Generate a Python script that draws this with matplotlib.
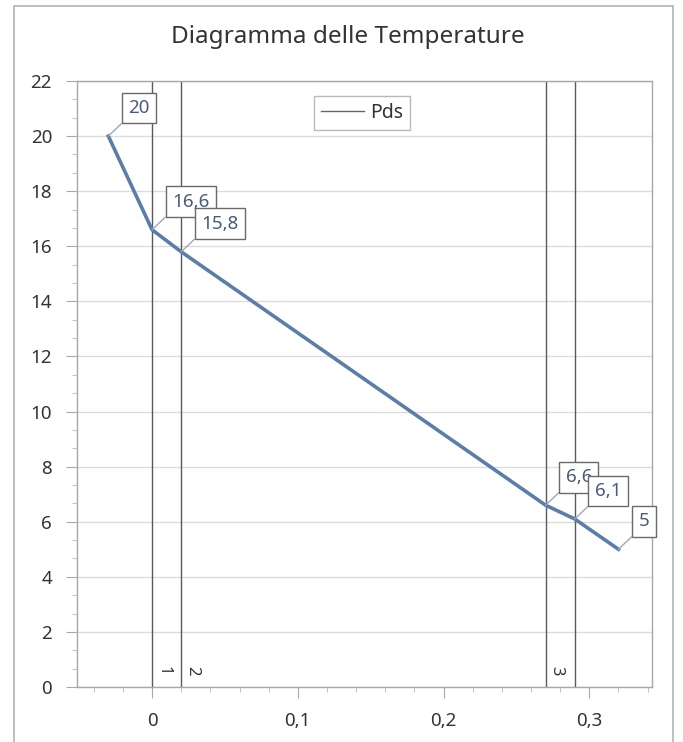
import matplotlib
matplotlib.use("Agg")
import matplotlib.pyplot as plt
from matplotlib.ticker import MultipleLocator, FuncFormatter
from matplotlib.patches import Rectangle
from matplotlib.transforms import offset_copy

plt.rcParams['font.family'] = ['Noto Sans', 'DejaVu Sans']

# Data
title = "Diagramma delle Temperature"
series_name = "Pds"
x_vals = [-0.03, 0.0, 0.02, 0.27, 0.29, 0.32]
y_vals = [20, 16.6, 15.8, 6.6, 6.1, 5]
point_labels = ["20", "16,6", "15,8", "6,6", "6,1", "5"]
layer_x = [0.0, 0.02, 0.27, 0.29]
layer_labels = ["1", "2", "3"]
layer_label_x = [0.0, 0.02, 0.27]

W, H = 683, 742
fig = plt.figure(figsize=(W / 100, H / 100), dpi=100)
ax = fig.add_axes([77 / W, 1 - 687 / H, (652 - 77) / W, (687 - 81) / H])

# outer frame
fig.patches.append(Rectangle((14 / W, -0.05), (673 - 14) / W, 1.05 - 6 / H,
                             transform=fig.transFigure, fill=False,
                             edgecolor='#b4b4b4', linewidth=1.2, clip_on=False))

line_color = '#5b7ea8'
text_color = '#4a5a78'

ax.set_xlim(-0.0515, 0.343)
ax.set_ylim(0, 22)

ax.yaxis.set_major_locator(MultipleLocator(2))
ax.yaxis.set_minor_locator(MultipleLocator(2 / 3))
ax.xaxis.set_major_locator(MultipleLocator(0.1))
ax.xaxis.set_minor_locator(MultipleLocator(0.02))
ax.xaxis.set_major_formatter(FuncFormatter(lambda v, p: ('%g' % round(v, 3)).replace('.', ',')))
ax.yaxis.set_major_formatter(FuncFormatter(lambda v, p: '%d' % v))

ax.grid(axis='y', color='#dcdcdc', linewidth=1)
ax.set_axisbelow(True)
for s in ax.spines.values():
    s.set_color('#a8a8a8')
    s.set_linewidth(1)
ax.tick_params(which='major', length=8, color='#a8a8a8', labelsize=13.5, labelcolor='#333333')
ax.tick_params(axis='y', which='major', pad=10)
ax.tick_params(axis='x', which='major', pad=10)
ax.tick_params(which='minor', length=3.5, color='#b8b8b8')

for xv in layer_x:
    ax.axvline(xv, color='#5a5a5a', linewidth=1, zorder=2)

lab_trans = offset_copy(ax.transData, fig=fig, x=3, y=0, units='dots')
for lab, xv in zip(layer_labels, layer_label_x):
    ax.text(xv, 0.4, lab, rotation=270, ha='left', va='bottom', fontsize=12,
            color='#333333', transform=lab_trans)

ax.plot(x_vals, y_vals, color=line_color, linewidth=2.6, label=series_name, zorder=3,
        solid_joinstyle='miter')

for xv, yv, lab in zip(x_vals, y_vals, point_labels):
    ax.annotate(lab, xy=(xv, yv), xytext=(20, 19), textcoords='offset pixels',
                ha='left', va='bottom', fontsize=13.5, color=text_color,
                bbox=dict(boxstyle='square,pad=0.34', fc='white', ec='#6a6a6a', lw=1),
                arrowprops=dict(arrowstyle='-', color='#9aa8bc', lw=1, relpos=(0, 0),
                                shrinkA=0, shrinkB=0),
                annotation_clip=False, zorder=5)

leg = ax.legend(loc='upper center', bbox_to_anchor=(0.496, 0.975), fontsize=14,
                frameon=True, fancybox=False, handlelength=2.2, handletextpad=0.35,
                borderpad=0.35, borderaxespad=0)
leg.get_frame().set_edgecolor('#a8a8a8')
leg.get_frame().set_linewidth(1)
leg.legend_handles[0].set_color('#666666')
leg.legend_handles[0].set_linewidth(1)
for t in leg.get_texts():
    t.set_color('#333333')

fig.text(348 / W, 1 - 37 / H, title, ha='center', va='center', fontsize=17.5, color='#333333')

fig.savefig('out.png', dpi=100)
